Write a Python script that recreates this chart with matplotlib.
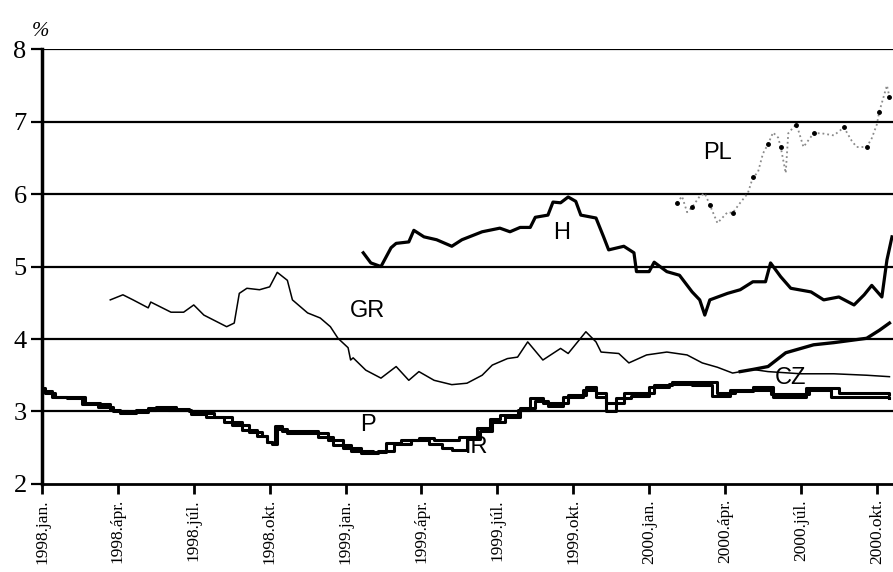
import numpy as np
import matplotlib
matplotlib.use("Agg")
import matplotlib.pyplot as plt

# x = months since 1998 January
tick_pos = [0, 3, 6, 9, 12, 15, 18, 21, 24, 27, 30, 33]
tick_labels = ["1998.jan.", "1998.ápr.", "1998.júl.", "1998.okt.",
               "1999.jan.", "1999.ápr.", "1999.júl.", "1999.okt.",
               "2000.jan.", "2000.ápr.", "2000.júl.", "2000.okt."]

p_x = [0, 0.1, 0.5, 1.3, 1.7, 2.3, 2.7, 3.1, 3.7, 4.5, 5.3, 5.8, 6.2, 6.8, 7.5,
       8.2, 8.7, 8.9, 9.1, 9.2, 9.5, 10.6, 10.9, 11.5, 12.2, 13.1, 13.6, 14.2,
       14.9, 15.5, 16.2, 16.5, 17.2, 17.7, 18.1, 18.8, 19.3, 19.8, 20.8, 21.5,
       21.9, 22.3, 23.0, 24.2, 24.9, 25.9, 26.7, 27.4, 28.1, 28.9, 30.2, 31.5,
       32.5, 33.5]
p_y = [3.32, 3.25, 3.2, 3.2, 3.12, 3.1, 3.02, 2.98, 3.02, 3.06, 3.04, 3.0, 2.98,
       2.93, 2.81, 2.72, 2.66, 2.58, 2.57, 2.8, 2.73, 2.73, 2.65, 2.54, 2.45,
       2.44, 2.57, 2.6, 2.63, 2.6, 2.6, 2.65, 2.77, 2.9, 2.95, 3.02, 3.19, 3.12,
       3.23, 3.34, 3.25, 3.12, 3.25, 3.37, 3.41, 3.41, 3.25, 3.28, 3.34, 3.2,
       3.32, 3.26, 3.26, 3.24]

ir_x = [0, 0.4, 1.0, 1.6, 2.2, 2.8, 3.4, 4.2, 5.0, 5.9, 6.5, 7.2, 7.9, 8.5,
        8.9, 9.1, 9.3, 9.7, 10.8, 11.3, 11.9, 12.6, 13.3, 13.9, 14.6, 15.3,
        15.8, 16.2, 16.8, 17.3, 17.8, 18.3, 18.9, 19.5, 20.0, 20.6, 21.4, 21.9,
        22.3, 22.7, 23.3, 24.0, 24.8, 25.7, 26.5, 27.2, 28.0, 28.8, 29.6, 30.3,
        31.2, 32.2, 33.5]
ir_y = [3.28, 3.2, 3.18, 3.1, 3.06, 3.0, 2.99, 3.05, 3.02, 2.97, 2.92, 2.85,
        2.75, 2.66, 2.58, 2.55, 2.76, 2.7, 2.7, 2.6, 2.5, 2.43, 2.46, 2.55,
        2.6, 2.55, 2.5, 2.47, 2.62, 2.73, 2.86, 2.92, 3.05, 3.15, 3.08, 3.2,
        3.3, 3.2, 3.0, 3.18, 3.22, 3.34, 3.38, 3.36, 3.22, 3.3, 3.3, 3.24,
        3.24, 3.3, 3.2, 3.2, 3.18]

gr_x = [2.7, 3.2, 3.6, 4.2, 4.3, 5.1, 5.6, 6.0, 6.4, 7.3, 7.6, 7.8, 8.1, 8.6,
        9.0, 9.3, 9.7, 9.9, 10.5, 11.0, 11.4, 11.7, 12.1, 12.2, 12.3, 12.8,
        13.4, 14.0, 14.5, 14.9, 15.5, 16.2, 16.8, 17.4, 17.8, 18.4, 18.8, 19.2,
        19.8, 20.5, 20.8, 21.5, 21.9, 22.1, 22.8, 23.2, 23.9, 24.7, 25.5, 26.1,
        26.7, 27.3, 28.1, 28.7, 30.0, 31.3, 32.6, 33.5]
gr_y = [4.54, 4.61, 4.54, 4.43, 4.51, 4.37, 4.37, 4.47, 4.33, 4.17, 4.22, 4.63,
        4.7, 4.68, 4.72, 4.92, 4.81, 4.54, 4.36, 4.29, 4.17, 4.01, 3.88, 3.71,
        3.74, 3.57, 3.46, 3.62, 3.43, 3.55, 3.43, 3.37, 3.39, 3.5, 3.64, 3.73,
        3.75, 3.96, 3.71, 3.87, 3.8, 4.1, 3.96, 3.82, 3.8, 3.67, 3.78, 3.82,
        3.78, 3.67, 3.61, 3.53, 3.58, 3.55, 3.52, 3.52, 3.5, 3.48]

cz_x = [27.6, 28.1, 28.7, 29.4, 30.5, 31.3, 32.6, 33.1, 33.5]
cz_y = [3.55, 3.58, 3.62, 3.81, 3.92, 3.95, 4.01, 4.12, 4.22]

h_x = [12.7, 13.0, 13.4, 13.8, 14.0, 14.5, 14.7, 15.1, 15.6, 16.2, 16.6, 17.4,
       18.1, 18.5, 18.9, 19.3, 19.5, 20.0, 20.2, 20.5, 20.8, 21.1, 21.3, 21.9,
       22.2, 22.4, 23.0, 23.4, 23.5, 24.0, 24.2, 24.7, 25.2, 25.7, 26.0, 26.2,
       26.4, 27.1, 27.6, 28.1, 28.6, 28.8, 29.2, 29.6, 30.4, 30.9, 31.5, 32.1,
       32.5, 32.8, 33.2, 33.4, 33.6]
h_y = [5.19, 5.05, 5.0, 5.26, 5.32, 5.34, 5.5, 5.41, 5.37, 5.28, 5.37, 5.48,
       5.53, 5.48, 5.54, 5.54, 5.68, 5.71, 5.89, 5.88, 5.96, 5.9, 5.71, 5.67,
       5.41, 5.23, 5.28, 5.19, 4.93, 4.93, 5.06, 4.93, 4.88, 4.65, 4.54, 4.33,
       4.54, 4.63, 4.68, 4.79, 4.79, 5.05, 4.86, 4.7, 4.65, 4.54, 4.58, 4.47,
       4.61, 4.74, 4.58, 5.09, 5.41]

pl_x = [25.1, 25.3, 25.5, 25.7, 26.0, 26.2, 26.4, 26.7, 27.1, 27.3, 27.6, 27.9,
        28.1, 28.3, 28.5, 28.7, 28.9, 29.1, 29.2, 29.4, 29.5, 29.8, 29.9, 30.1,
        30.5, 30.8, 31.3, 31.7, 32.0, 32.2, 32.6, 32.8, 33.0, 33.1, 33.2, 33.4,
        33.5]
pl_y = [5.88, 5.97, 5.75, 5.82, 5.97, 6.01, 5.85, 5.6, 5.75, 5.74, 5.88, 6.01,
        6.23, 6.3, 6.56, 6.69, 6.85, 6.78, 6.65, 6.29, 6.84, 6.96, 6.88, 6.65,
        6.84, 6.84, 6.81, 6.92, 6.74, 6.65, 6.65, 6.77, 6.96, 7.14, 7.26, 7.5,
        7.34]

labels = ["PL", "H", "GR", "CZ", "P", "IR"]
label_x = [26.7, 20.55, 12.85, 29.6, 12.9, 17.2]
label_y = [6.57, 5.46, 4.39, 3.46, 2.81, 2.51]

fig = plt.figure(figsize=(8.93, 5.72), dpi=100)
ax = fig.add_axes([0.047, 0.154, 0.953, 0.760])

for v in range(3, 9):
    ax.axhline(v, color="black", lw=1.6, zorder=1)

ax.plot(p_x, p_y, color="black", lw=2.2, drawstyle="steps-post", zorder=3)
ax.plot(ir_x, ir_y, color="black", lw=2.2, drawstyle="steps-post", zorder=3)
ax.plot(gr_x, gr_y, color="black", lw=1.1, zorder=3)
ax.plot(cz_x, cz_y, color="black", lw=2.4, zorder=3)
ax.plot(h_x, h_y, color="black", lw=2.3, zorder=3)
ax.plot(pl_x, pl_y, color="#8a8a8a", lw=1.3, ls=":", zorder=3)
ax.plot(pl_x[::3], pl_y[::3], "o", color="black", ms=2.5, zorder=4)

for t, lx, ly in zip(labels, label_x, label_y):
    ax.text(lx, ly, t, ha="center", va="center", fontsize=17,
            family="Liberation Sans")

ax.set_xlim(0, 33.64)
ax.set_ylim(2, 8)
ax.set_yticks(range(2, 9))
ax.set_yticklabels([str(v) for v in range(2, 9)], family="Liberation Serif",
                   fontsize=19)
ax.set_xticks(tick_pos)
ax.set_xticklabels(tick_labels, rotation=90, family="Liberation Serif",
                   fontsize=12.5)
ax.tick_params(axis="x", length=7, width=2, direction="out", pad=4)
ax.tick_params(axis="y", length=8, width=1.6, direction="out", pad=3)

for s in ["top", "right"]:
    ax.spines[s].set_visible(False)
ax.spines["left"].set_linewidth(2.5)
ax.spines["bottom"].set_linewidth(2)

fig.text(0.045, 0.945, "%", family="Liberation Serif", style="italic",
         fontsize=15, ha="center", va="center")

fig.savefig("out.png", dpi=100)
